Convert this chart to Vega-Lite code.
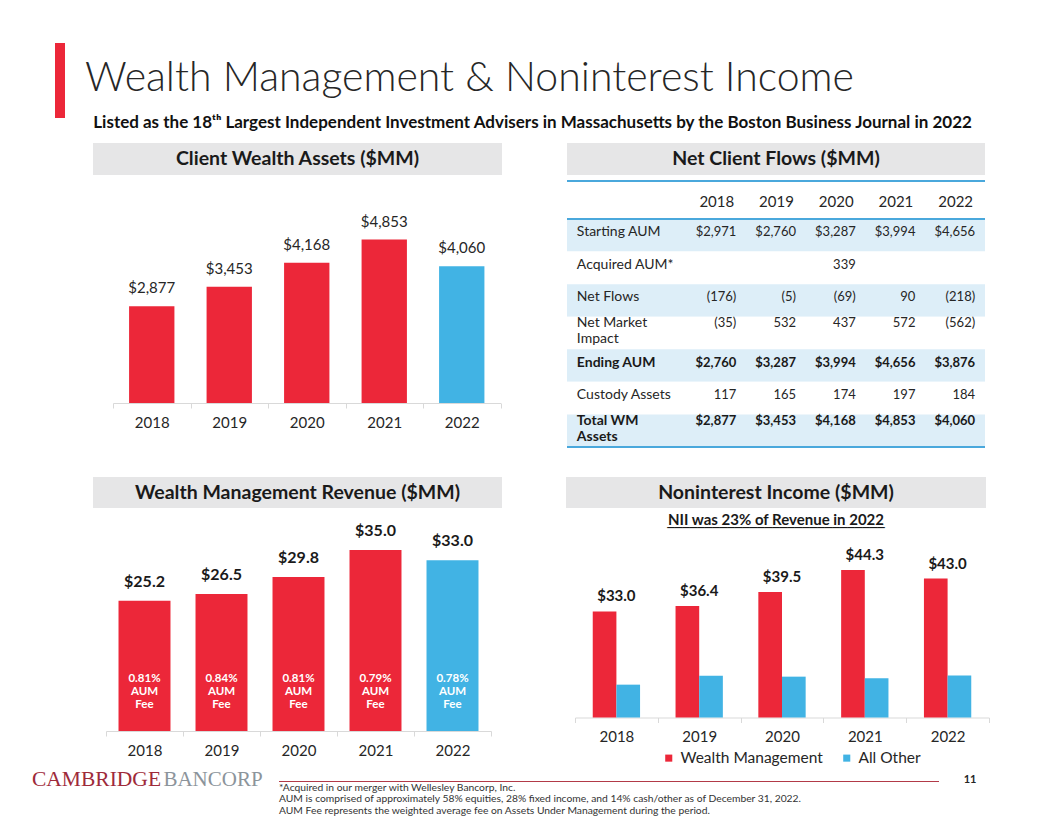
{
"$schema": "https://vega.github.io/schema/vega-lite/v6.json",
"background": "white",
"padding": {"left": 30, "top": 43, "right": 0, "bottom": 0},
"spacing": 0,
"resolve": {"scale": {"color": "independent"}, "legend": {"color": "independent"}},
"config": {"view": {"stroke": null}, "font": "Lato", "text": {"font": "Lato"}, "axis": {"labelFont": "Lato"}, "legend": {"labelFont": "Lato"}, "title": {"font": "Lato", "subtitleFont": "Lato"}},
"datasets": {
 "cwa": [{"year":"2018","value":2877},{"year":"2019","value":3453},{"year":"2020","value":4168},{"year":"2021","value":4853},{"year":"2022","value":4060}],
 "wmr": [{"year":"2018","value":25.2,"fee":"0.81%"},{"year":"2019","value":26.5,"fee":"0.84%"},{"year":"2020","value":29.8,"fee":"0.81%"},{"year":"2021","value":35.0,"fee":"0.79%"},{"year":"2022","value":33.0,"fee":"0.78%"}],
 "nii": [{"year":"2018","series":"Wealth Management","value":25.2},{"year":"2019","series":"Wealth Management","value":26.5},{"year":"2020","series":"Wealth Management","value":29.8},{"year":"2021","series":"Wealth Management","value":35.0},{"year":"2022","series":"Wealth Management","value":33.0},
         {"year":"2018","series":"All Other","value":7.8},{"year":"2019","series":"All Other","value":9.9},{"year":"2020","series":"All Other","value":9.7},{"year":"2021","series":"All Other","value":9.3},{"year":"2022","series":"All Other","value":10.0}],
 "niitot": [{"year":"2018","wm":25.2,"total":33.0},{"year":"2019","wm":26.5,"total":36.4},{"year":"2020","wm":29.8,"total":39.5},{"year":"2021","wm":35.0,"total":44.3},{"year":"2022","wm":33.0,"total":43.0}],
 "tlabels": [{"row":"Starting AUM","label":"Starting AUM"},{"row":"Acquired AUM","label":"Acquired AUM*"},{"row":"Net Flows","label":"Net Flows"},{"row":"Net Market Impact","label":"Net Market\nImpact"},{"row":"Ending AUM","label":"Ending AUM"},{"row":"Custody Assets","label":"Custody Assets"},{"row":"Total WM Assets","label":"Total WM\nAssets"}],
 "tcells": [
  {"row":"Starting AUM","col":"2018","v":"$2,971"},{"row":"Starting AUM","col":"2019","v":"$2,760"},{"row":"Starting AUM","col":"2020","v":"$3,287"},{"row":"Starting AUM","col":"2021","v":"$3,994"},{"row":"Starting AUM","col":"2022","v":"$4,656"},
  {"row":"Acquired AUM","col":"2020","v":"339"},
  {"row":"Net Flows","col":"2018","v":"(176)"},{"row":"Net Flows","col":"2019","v":"(5)"},{"row":"Net Flows","col":"2020","v":"(69)"},{"row":"Net Flows","col":"2021","v":"90"},{"row":"Net Flows","col":"2022","v":"(218)"},
  {"row":"Net Market Impact","col":"2018","v":"(35)"},{"row":"Net Market Impact","col":"2019","v":"532"},{"row":"Net Market Impact","col":"2020","v":"437"},{"row":"Net Market Impact","col":"2021","v":"572"},{"row":"Net Market Impact","col":"2022","v":"(562)"},
  {"row":"Ending AUM","col":"2018","v":"$2,760"},{"row":"Ending AUM","col":"2019","v":"$3,287"},{"row":"Ending AUM","col":"2020","v":"$3,994"},{"row":"Ending AUM","col":"2021","v":"$4,656"},{"row":"Ending AUM","col":"2022","v":"$3,876"},
  {"row":"Custody Assets","col":"2018","v":"117"},{"row":"Custody Assets","col":"2019","v":"165"},{"row":"Custody Assets","col":"2020","v":"174"},{"row":"Custody Assets","col":"2021","v":"197"},{"row":"Custody Assets","col":"2022","v":"184"},
  {"row":"Total WM Assets","col":"2018","v":"$2,877"},{"row":"Total WM Assets","col":"2019","v":"$3,453"},{"row":"Total WM Assets","col":"2020","v":"$4,168"},{"row":"Total WM Assets","col":"2021","v":"$4,853"},{"row":"Total WM Assets","col":"2022","v":"$4,060"}
 ]
},
"vconcat": [
 {"spacing": 0, "hconcat": [
   {"width": 25, "height": 75, "data": {"values": []}, "mark": "text", "encoding": {}},
   {"width": 10, "height": 75, "view": {"fill": "#EC2739", "stroke": null}, "data": {"values": []}, "mark": "text", "encoding": {}},
   {"width": 20, "height": 75, "data": {"values": []}, "mark": "text", "encoding": {}},
   {"width": 900, "height": 16, "data": {"values": []}, "mark": "text", "encoding": {},
    "title": {"text": "Wealth Management & Noninterest Income", "subtitle": "\u200b\u00a0\u00a0Listed as the 18ᵗʰ Largest Independent Investment Advisers in Massachusetts by the Boston Business Journal in 2022",
      "orient": "bottom", "anchor": "start", "frame": "group", "offset": 0, "fontSize": 41, "fontWeight": 300, "color": "#262626",
      "subtitleFontSize": 17, "subtitleFontWeight": "bold", "subtitleColor": "#111111", "subtitlePadding": 15}}
 ]},
 {"width": 10, "height": 12, "data": {"values": []}, "mark": "text", "encoding": {}},
 {"spacing": 0, "hconcat": [
   {"width": 63, "height": 1, "data": {"values": []}, "mark": "text", "encoding": {}},
   {"spacing": 26, "vconcat": [
     {"width": 409, "height": 32, "view": {"fill": "#E6E6E7", "stroke": null}, "data": {"values": [{}]}, "mark": {"type": "text", "text": "Client Wealth Assets ($MM)", "fontSize": 19.5, "fontWeight": "bold", "color": "#1A1A1A"}, "encoding": {}},
     {"spacing": 0, "hconcat": [
       {"width": 18.7, "height": 1, "data": {"values": []}, "mark": "text", "encoding": {}},
       {"width": 387.5, "height": 202, "data": {"name": "cwa"},
        "encoding": {
          "x": {"field": "year", "type": "ordinal", "scale": {"paddingInner": 0, "paddingOuter": 0}, "axis": {"title": null, "labelAngle": 0, "domainColor": "#D9D9D9", "tickColor": "#D9D9D9", "tickSize": 5, "tickBand": "extent", "labelFontSize": 15, "labelColor": "#262626", "labelPadding": 7, "grid": false}},
          "y": {"field": "value", "type": "quantitative", "scale": {"domain": [0, 6000]}, "axis": null}},
        "layer": [
          {"mark": {"type": "bar", "width": {"band": 0.585}}, "encoding": {"color": {"condition": {"test": "datum.year === '2022'", "value": "#41B3E4"}, "value": "#EC2739"}}},
          {"mark": {"type": "text", "dy": -18, "fontSize": 15, "color": "#262626"}, "encoding": {"text": {"field": "value", "type": "quantitative", "format": "$,.0f"}}}
        ]}
     ]}
   ]},
   {"width": 64, "height": 1, "data": {"values": []}, "mark": "text", "encoding": {}},
   {"spacing": 0, "vconcat": [
     {"width": 418, "height": 32, "view": {"fill": "#E6E6E7", "stroke": null}, "data": {"values": [{}]}, "mark": {"type": "text", "text": "Net Client Flows ($MM)", "fontSize": 19.5, "fontWeight": "bold", "color": "#1A1A1A"}, "encoding": {}},
     {"width": 418, "height": 5, "data": {"values": []}, "mark": "text", "encoding": {}},
     {"width": 418, "height": 2, "view": {"fill": "#4AA8DC", "stroke": null}, "data": {"values": []}, "mark": "text", "encoding": {}},
     {"width": 418, "height": 12, "data": {"values": []}, "mark": "text", "encoding": {}},
     {"width": 418, "height": 228,
      "layer": [
        {"data": {"name": "tlabels"}, "mark": {"type": "rect"},
         "encoding": {"y": {"field": "row", "type": "nominal", "sort": null, "scale": {"domain": ["Starting AUM","Acquired AUM","Net Flows","Net Market Impact","Ending AUM","Custody Assets","Total WM Assets"], "paddingInner": 0, "paddingOuter": 0}, "axis": null},
           "color": {"condition": {"test": "indexof(['Starting AUM','Net Flows','Ending AUM','Total WM Assets'], datum.row) >= 0", "value": "#DDEEF8"}, "value": "#FFFFFF"}}},
        {"data": {"values": [{"row": "Starting AUM"}]}, "mark": {"type": "rule", "color": "#4AA8DC", "strokeWidth": 2},
         "encoding": {"y": {"field": "row", "type": "nominal", "bandPosition": 0, "scale": {"domain": ["Starting AUM","Acquired AUM","Net Flows","Net Market Impact","Ending AUM","Custody Assets","Total WM Assets"], "paddingInner": 0, "paddingOuter": 0}, "axis": null}}},
        {"data": {"values": [{"row": "Total WM Assets"}]}, "mark": {"type": "rule", "color": "#4AA8DC", "strokeWidth": 2},
         "encoding": {"y": {"field": "row", "type": "nominal", "bandPosition": 1, "scale": {"domain": ["Starting AUM","Acquired AUM","Net Flows","Net Market Impact","Ending AUM","Custody Assets","Total WM Assets"], "paddingInner": 0, "paddingOuter": 0}, "axis": null}}},
        {"data": {"name": "tlabels"},
         "encoding": {
           "x": {"datum": "lab1", "type": "nominal", "scale": {"domain": ["lab1","lab2","2018","2019","2020","2021","2022"], "paddingInner": 0, "paddingOuter": 0}, "axis": {"orient": "top", "title": null, "domain": false, "ticks": false, "labelAngle": 0, "labelFontSize": 15, "labelColor": "#262626", "labelPadding": 10, "labelExpr": "datum.label[0] === 'l' ? '' : datum.label"}},
           "y": {"field": "row", "type": "nominal", "scale": {"domain": ["Starting AUM","Acquired AUM","Net Flows","Net Market Impact","Ending AUM","Custody Assets","Total WM Assets"], "paddingInner": 0, "paddingOuter": 0}, "axis": null},
           "text": {"field": "label"}},
         "layer": [
           {"transform": [{"filter": "indexof(['Net Market Impact','Ending AUM','Total WM Assets'], datum.row) < 0"}], "mark": {"type": "text", "align": "left", "dx": -20, "dy": -3, "fontSize": 14, "color": "#262626"}},
           {"transform": [{"filter": "datum.row === 'Net Market Impact'"}], "mark": {"type": "text", "align": "left", "dx": -20, "dy": -10, "fontSize": 14, "color": "#262626", "lineBreak": "\n", "lineHeight": 16}},
           {"transform": [{"filter": "datum.row === 'Ending AUM'"}], "mark": {"type": "text", "align": "left", "dx": -20, "dy": -3, "fontSize": 14, "fontWeight": "bold", "color": "#1A1A1A"}},
           {"transform": [{"filter": "datum.row === 'Total WM Assets'"}], "mark": {"type": "text", "align": "left", "dx": -20, "dy": -10, "fontSize": 14, "fontWeight": "bold", "color": "#1A1A1A", "lineBreak": "\n", "lineHeight": 16}}
         ]},
        {"data": {"name": "tcells"},
         "encoding": {
           "x": {"field": "col", "type": "nominal", "scale": {"domain": ["lab1","lab2","2018","2019","2020","2021","2022"], "paddingInner": 0, "paddingOuter": 0}, "axis": {"orient": "top", "title": null, "domain": false, "ticks": false, "labelAngle": 0, "labelFontSize": 15, "labelColor": "#262626", "labelPadding": 10, "labelExpr": "datum.label[0] === 'l' ? '' : datum.label"}},
           "y": {"field": "row", "type": "nominal", "scale": {"domain": ["Starting AUM","Acquired AUM","Net Flows","Net Market Impact","Ending AUM","Custody Assets","Total WM Assets"], "paddingInner": 0, "paddingOuter": 0}, "axis": null},
           "text": {"field": "v"}},
         "layer": [
           {"transform": [{"filter": "indexof(['Net Market Impact','Ending AUM','Total WM Assets'], datum.row) < 0"}], "mark": {"type": "text", "align": "right", "dx": 20, "dy": -3, "fontSize": 13, "color": "#262626"}},
           {"transform": [{"filter": "datum.row === 'Net Market Impact'"}], "mark": {"type": "text", "align": "right", "dx": 20, "dy": -10, "fontSize": 13, "color": "#262626"}},
           {"transform": [{"filter": "datum.row === 'Ending AUM'"}], "mark": {"type": "text", "align": "right", "dx": 20, "dy": -3, "fontSize": 13, "fontWeight": "bold", "color": "#1A1A1A"}},
           {"transform": [{"filter": "datum.row === 'Total WM Assets'"}], "mark": {"type": "text", "align": "right", "dx": 20, "dy": -10, "fontSize": 13, "fontWeight": "bold", "color": "#1A1A1A"}}
         ]}
      ]}
   ]}
 ]},
 {"width": 10, "height": 29, "data": {"values": []}, "mark": "text", "encoding": {}},
 {"spacing": 0, "resolve": {"scale": {"color": "independent"}, "legend": {"color": "independent"}}, "hconcat": [
   {"width": 63, "height": 1, "data": {"values": []}, "mark": "text", "encoding": {}},
   {"spacing": 11, "vconcat": [
     {"width": 409, "height": 31, "view": {"fill": "#E6E6E7", "stroke": null}, "data": {"values": [{}]}, "mark": {"type": "text", "text": "Wealth Management Revenue ($MM)", "fontSize": 19.5, "fontWeight": "bold", "color": "#1A1A1A"}, "encoding": {}},
     {"spacing": 0, "hconcat": [
       {"width": 12, "height": 1, "data": {"values": []}, "mark": "text", "encoding": {}},
       {"width": 385, "height": 212, "data": {"name": "wmr"},
        "encoding": {
          "x": {"field": "year", "type": "ordinal", "scale": {"paddingInner": 0, "paddingOuter": 0}, "axis": {"title": null, "labelAngle": 0, "domainColor": "#D9D9D9", "tickColor": "#D9D9D9", "tickSize": 5, "tickBand": "extent", "labelFontSize": 15, "labelColor": "#262626", "labelPadding": 7, "grid": false}},
          "y": {"field": "value", "type": "quantitative", "scale": {"domain": [0, 41]}, "axis": null}},
        "layer": [
          {"mark": {"type": "bar", "width": {"band": 0.675}}, "encoding": {"color": {"condition": {"test": "datum.year === '2022'", "value": "#41B3E4"}, "value": "#EC2739"}}},
          {"mark": {"type": "text", "dy": -19, "fontSize": 16, "fontWeight": "bold", "color": "#1A1A1A"}, "encoding": {"text": {"field": "value", "type": "quantitative", "format": "$.1f"}}},
          {"mark": {"type": "text", "dy": -52, "fontSize": 11.5, "fontWeight": "bold", "color": "#FFFFFF"}, "encoding": {"y": {"datum": 0}, "text": {"field": "fee"}}},
          {"mark": {"type": "text", "dy": -39, "fontSize": 11.5, "fontWeight": "bold", "color": "#FFFFFF", "text": "AUM"}, "encoding": {"y": {"datum": 0}}},
          {"mark": {"type": "text", "dy": -26, "fontSize": 11.5, "fontWeight": "bold", "color": "#FFFFFF", "text": "Fee"}, "encoding": {"y": {"datum": 0}}}
        ]}
     ]}
   ]},
   {"width": 64, "height": 1, "data": {"values": []}, "mark": "text", "encoding": {}},
   {"spacing": 0, "resolve": {"scale": {"color": "independent"}, "legend": {"color": "independent"}}, "vconcat": [
     {"width": 420, "height": 31, "view": {"fill": "#E6E6E7", "stroke": null}, "data": {"values": [{}]}, "mark": {"type": "text", "text": "Noninterest Income ($MM)", "fontSize": 19.5, "fontWeight": "bold", "color": "#1A1A1A"}, "encoding": {}},
     {"width": 420, "height": 20, "data": {"values": [{}]},
      "layer": [
        {"mark": {"type": "text", "text": "NII was 23% of Revenue in 2022", "fontSize": 15, "fontWeight": "bold", "color": "#1A1A1A", "dy": 2}, "encoding": {}},
        {"mark": {"type": "text", "text": "_____________________________", "font": "DejaVu Sans", "fontSize": 15, "baseline": "alphabetic", "color": "#1A1A1A", "dy": 6}, "encoding": {}}
      ]},
     {"spacing": 0, "resolve": {"scale": {"color": "independent"}, "legend": {"color": "independent"}}, "hconcat": [
       {"width": 8, "height": 1, "data": {"values": []}, "mark": "text", "encoding": {}},
       {"width": 414, "height": 189.5,
        "layer": [
          {"data": {"name": "nii"}, "mark": "bar",
           "encoding": {
             "x": {"field": "year", "type": "ordinal", "scale": {"paddingInner": 0, "paddingOuter": 0}, "axis": {"title": null, "labelAngle": 0, "domainColor": "#D9D9D9", "tickColor": "#D9D9D9", "tickSize": 5, "tickBand": "extent", "labelFontSize": 15, "labelColor": "#262626", "labelPadding": 7, "grid": false}},
             "xOffset": {"field": "series", "type": "nominal", "scale": {"domain": ["Wealth Management", "All Other"], "paddingInner": 0, "paddingOuter": 0.75}},
             "y": {"field": "value", "type": "quantitative", "scale": {"domain": [0, 45]}, "axis": null},
             "color": {"field": "series", "type": "nominal", "scale": {"domain": ["Wealth Management", "All Other"], "range": ["#EC2739", "#41B3E4"]},
               "legend": {"orient": "none", "legendX": 86, "legendY": 222, "title": null, "direction": "horizontal", "symbolType": "square", "symbolSize": 50, "symbolStrokeWidth": 0, "labelFontSize": 15.5, "labelColor": "#262626", "columnPadding": 16, "labelOffset": 4, "padding": 0}}}},
          {"data": {"name": "niitot"}, "mark": {"type": "text", "dy": -15, "fontSize": 15, "fontWeight": "bold", "color": "#1A1A1A"},
           "encoding": {
             "x": {"field": "year", "type": "ordinal"},
             "y": {"field": "wm", "type": "quantitative", "scale": {"domain": [0, 45]}},
             "text": {"field": "total", "type": "quantitative", "format": "$.1f"}}}
        ]}
     ]}
   ]}
 ]},
 {"width": 10, "height": 2, "data": {"values": []}, "mark": "text", "encoding": {}},
 {"spacing": 0, "hconcat": [
   {"width": 133, "height": 20, "data": {"values": [{}]}, "mark": {"type": "text", "text": "CAMBRIDGE", "font": "Liberation Serif", "fontSize": 21.5, "color": "#9E2A3A"}, "encoding": {}},
   {"width": 100, "height": 20, "data": {"values": [{}]}, "mark": {"type": "text", "text": "BANCORP", "font": "Liberation Serif", "fontSize": 21, "color": "#8C949B"}, "encoding": {}},
   {"width": 16, "height": 1, "data": {"values": []}, "mark": "text", "encoding": {}},
   {"spacing": 0, "vconcat": [
     {"width": 660, "height": 11, "data": {"values": []}, "mark": "text", "encoding": {}},
     {"width": 660, "height": 1, "view": {"fill": "#B23A48", "stroke": null}, "data": {"values": []}, "mark": "text", "encoding": {}},
     {"width": 660, "height": 1, "data": {"values": []}, "mark": "text", "encoding": {},
      "title": {"text": ["*Acquired in our merger with Wellesley Bancorp, Inc.", "AUM is comprised of approximately 58% equities, 28% fixed income, and 14% cash/other as of December 31, 2022.", "AUM Fee represents the weighted average fee on Assets Under Management during the period."],
        "orient": "bottom", "anchor": "start", "frame": "group", "offset": 0, "fontSize": 10.3, "fontWeight": "normal", "color": "#333333", "lineHeight": 11.3}}
   ]},
   {"width": 24, "height": 1, "data": {"values": []}, "mark": "text", "encoding": {}},
   {"width": 14, "height": 20, "data": {"values": [{}]}, "mark": {"type": "text", "text": "11", "fontSize": 11, "fontWeight": "bold", "color": "#262626"}, "encoding": {}}
 ]}
]
}
